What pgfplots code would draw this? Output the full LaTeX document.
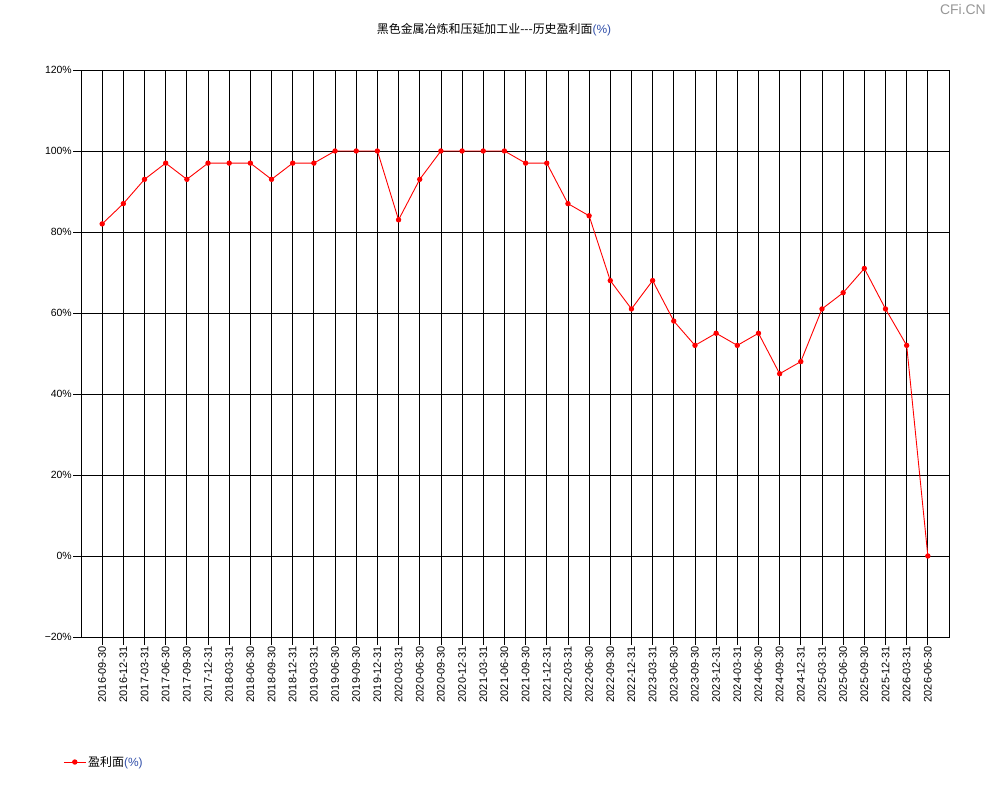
\documentclass[border=0pt]{standalone}
\usepackage{pgfplots}
\pgfplotsset{compat=1.18}
\usepackage{fontspec}
\setmainfont{Liberation Sans}
\newfontfamily\cjk{Noto Sans CJK SC}
\definecolor{pctblue}{RGB}{50,80,170}
\definecolor{wmgray}{RGB}{150,150,150}

% profitable share of firms, quarterly
\pgfplotstableread{
idx value
0 82
1 87
2 93
3 97
4 93
5 97
6 97
7 97
8 93
9 97
10 97
11 100
12 100
13 100
14 83
15 93
16 100
17 100
18 100
19 100
20 97
21 97
22 87
23 84
24 68
25 61
26 68
27 58
28 52
29 55
30 52
31 55
32 45
33 48
34 61
35 65
36 71
37 61
38 52
39 0
}\profit

\begin{document}
\begin{tikzpicture}[x=1bp,y=1bp]
\useasboundingbox (0,0) rectangle (990,800);
\node[font=\fontsize{12}{14}\selectfont] at (494,770) {{\cjk 黑色金属冶炼和压延加工业-{}-{}-历史盈利面}\textcolor{pctblue}{(\%)}};
\node[font=\fontsize{14}{14}\selectfont, text=wmgray, anchor=east, inner sep=0pt] at (986,790) {CFi.CN};
\begin{axis}[
  at={(81bp,163bp)}, anchor=south west,
  scale only axis, width=868bp, height=567bp,
  xmin=-1, xmax=40, ymin=-20, ymax=120,
  xtick={0,...,39},
  xticklabels={2016-09-30,2016-12-31,2017-03-31,2017-06-30,2017-09-30,2017-12-31,
    2018-03-31,2018-06-30,2018-09-30,2018-12-31,2019-03-31,2019-06-30,2019-09-30,2019-12-31,
    2020-03-31,2020-06-30,2020-09-30,2020-12-31,2021-03-31,2021-06-30,2021-09-30,2021-12-31,
    2022-03-31,2022-06-30,2022-09-30,2022-12-31,2023-03-31,2023-06-30,2023-09-30,2023-12-31,
    2024-03-31,2024-06-30,2024-09-30,2024-12-31,2025-03-31,2025-06-30,2025-09-30,2025-12-31,
    2026-03-31,2026-06-30},
  ytick={-20,0,20,40,60,80,100,120},
  yticklabels={−20\%,0\%,20\%,40\%,60\%,80\%,100\%,120\%},
  xticklabel style={rotate=90, anchor=east, font=\fontsize{11}{12}\selectfont, inner sep=1bp},
  yticklabel style={font=\fontsize{10.5}{12}\selectfont, inner sep=1bp},
  tick pos=left, tick align=outside, major tick length=8bp,
  tick style={black, line width=0.8bp},
  grid=major, major grid style={black, line width=0.8bp},
  axis line style={black, line width=0.8bp},
  legend style={at={(-0.024,-0.2205)}, anchor=west, draw=none, fill=none,
    font=\fontsize{12}{14}\selectfont},
  legend image code/.code={
    \draw[mark repeat=2,mark phase=2] plot coordinates {(0bp,0bp) (11bp,0bp) (22bp,0bp)};},
]
\addplot[red, line width=0.9bp, mark=*, mark size=2.2bp] table[x=idx, y=value] {\profit};
\addlegendentry{{\cjk 盈利面}\textcolor{pctblue}{(\%)}}
\end{axis}
\end{tikzpicture}
\end{document}
